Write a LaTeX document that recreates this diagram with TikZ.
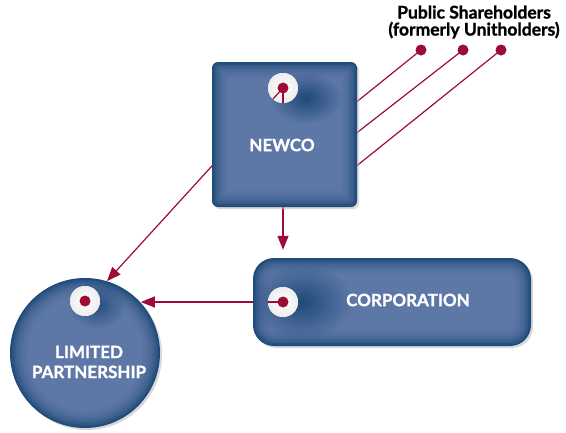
\documentclass[tikz,border=0pt]{standalone}
\usepackage{fontspec}
\setmainfont{Lato}[BoldFeatures={FakeBold=1.2}]
\usetikzlibrary{arrows.meta,fadings}
\definecolor{rd}{HTML}{9E0B36}
\definecolor{bdark}{HTML}{1E4A7A}
\definecolor{blight}{HTML}{6C83B2}
\tikzfading[name=soft, inner color=transparent!0, outer color=transparent!100]
\tikzset{
  conn/.style={rd, line width=1.2pt},
  arr/.style={conn, -{Triangle[length=14pt,width=11pt]}},
  dotnode/.style={circle, fill=rd, minimum size=11pt, inner sep=0pt},
  holenode/.style={circle, minimum size=30pt, inner sep=0pt},
  lbl/.style={text=white, font=\bfseries\fontsize{17}{20}\selectfont, align=center},
  hdr/.style={text=black, font=\bfseries\fontsize{17.5}{17}\selectfont, align=center},
}
\newcommand\pillowrect[5]{%
  \fill[black!25, opacity=0.6, rounded corners=#5] ({#1+2},{#2+2}) rectangle ({#3+2},{#4+2});
  \fill[bdark, rounded corners=#5] (#1,#2) rectangle (#3,#4);
  \foreach \i in {1,...,12}{
    \fill[blight, opacity=0.14, rounded corners={max(#5-\i*1.2,0.5)}]
      ({#1+\i*1.4},{#2+\i*1.4}) rectangle ({#3-\i*1.4},{#4-\i*1.4});
  }}
\newcommand\pillowcirc[3]{%
  \fill[black!25, opacity=0.6] ({#1+2},{#2+2}) circle (#3);
  \fill[bdark] (#1,#2) circle (#3);
  \foreach \i in {1,...,12}{
    \fill[blight, opacity=0.14] (#1,#2) circle ({#3-\i*1.5});
  }}
\newcommand\dimple[5]{%
  \fill[bdark, opacity=#5, path fading=soft] (#1,#2) ellipse [x radius=#3, y radius=#4];}
\newcommand\hole[1]{%
  \fill[white] (#1) circle (15);
  \shade[inner color=white, outer color=black!7] (#1) circle (15);}
\begin{document}
\begin{tikzpicture}[x=1pt, y=-1pt]
\useasboundingbox (0,0) rectangle (566,432);
% placeholders
\path (284.5,134.5) node[minimum width=145pt, minimum height=145pt, inner sep=0pt] (newco) {};
\path (392,302) node[minimum width=278pt, minimum height=88pt, inner sep=0pt] (corp) {};
\path (85,353) node[circle, minimum size=150pt, inner sep=0pt] (lp) {};
\node[holenode] (nh) at (283,88) {};
\node[holenode] (ch) at (283,302) {};
\node[holenode] (lh) at (85,301) {};
\node[dotnode] (s1) at (421,50) {};
\node[dotnode] (s2) at (463,50) {};
\node[dotnode] (s3) at (501,50) {};
\coordinate (e1) at (354,104);
\coordinate (e2) at (354,135);
\coordinate (e3) at (354,168);
% connectors (under shapes)
\draw[conn] (s1.center) -- (e1);
\draw[conn] (s2.center) -- (e2);
\draw[conn] (s3.center) -- (e3);
\draw[arr] (nh.center) -- (lp.73);
\draw[arr, shorten >=8pt] (nh.center) -- (nh.center |- corp.north);
\draw[arr] (ch.center) -- (ch.center -| lp.42);
% shapes
\pillowrect{212}{62}{357}{207}{6}
\pillowrect{253}{258}{531}{346}{21}
\pillowcirc{85}{353}{75}
\dimple{306}{98}{36}{26}{1}
\dimple{302}{302}{50}{38}{1}
\dimple{97}{305}{28}{24}{0.9}
\hole{nh.center}
\hole{ch.center}
\hole{lh.center}
% connectors seen through the holes
\begin{scope}
  \clip (nh.center) circle (15);
  \draw[conn] (nh.center) -- (lp.73);
  \draw[conn] (nh.center) -- (nh.center |- corp.north);
\end{scope}
\begin{scope}
  \clip (ch.center) circle (15);
  \draw[conn] (ch.center) -- (ch.center -| lp.42);
\end{scope}
\foreach \h in {nh,ch,lh} \fill[rd] (\h.center) circle (5.5);
% labels
\node[lbl] at (282,145) {NEWCO};
\node[lbl] at (408,300) {CORPORATION};
\node[lbl] at (89,362) {LIMITED\\PARTNERSHIP};
\node[hdr] at (474,22) {Public Shareholders\\(formerly Unitholders)};
\end{tikzpicture}
\end{document}
